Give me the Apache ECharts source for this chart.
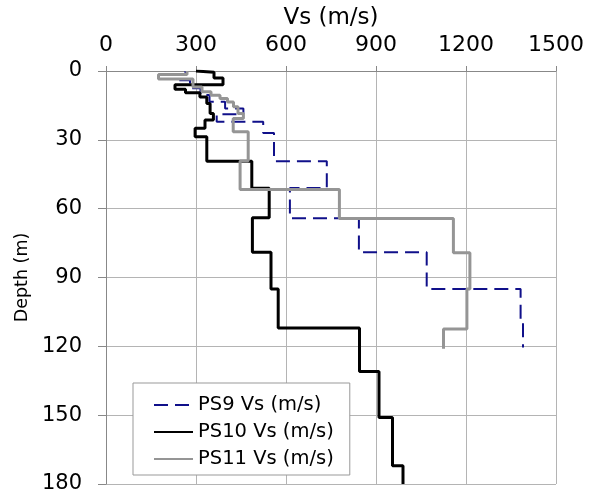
<!DOCTYPE html>
<html>
<head>
<meta charset="utf-8">
<script src="https://cdn.jsdelivr.net/npm/echarts@6/dist/echarts.min.js"></script>
<style>
  html, body { margin: 0; padding: 0; background: #fff; }
  #chart { width: 589px; height: 496px; }
</style>
</head>
<body>
<div id="chart"></div>
<script>
// layer bottoms (m) and shear wave velocity (m/s) per layer
const ps9Bottom = [1.5, 4, 7.5, 10.5, 13.4, 16.3, 18.8, 22.1, 27, 39.3, 51, 64.2, 79, 95, 108, 120.5];
const ps9Vs = [265, 235, 280, 315, 345, 397, 458, 369, 524, 560, 736, 613, 843, 1069, 1382, 1390];

const ps10Bottom = [0.5, 3, 6, 8, 9.5, 11.3, 14.2, 18.5, 21.4, 25, 28.7, 39.3, 51.1, 64, 79, 95, 112, 131, 151, 172, 180];
const ps10Vs = [300, 360, 390, 230, 265, 313, 336, 347, 358, 330, 297, 336, 486, 544, 488, 550, 574, 845, 910, 955, 990];

const ps11Bottom = [1.5, 3.5, 7, 9, 10.6, 12, 13.5, 15.6, 18.5, 20.7, 26.5, 39.2, 51.6, 64.3, 79.2, 95, 112.4, 121];
const ps11Vs = [270, 175, 290, 320, 350, 380, 405, 425, 440, 458, 424, 474, 447, 778, 1158, 1213, 1203, 1125];

const xTicks = [0, 300, 600, 900, 1200, 1500];
const yTicks = [0, 30, 60, 90, 120, 150, 180];

const seriesNames = ['PS9 Vs (m/s)', 'PS10 Vs (m/s)', 'PS11 Vs (m/s)'];

// turn layers into a step polyline: [Vs, depth]
function steps(bottoms, vs) {
  const pts = [];
  let top = 0;
  for (let i = 0; i < vs.length; i++) {
    pts.push([vs[i], top]);
    pts.push([vs[i], bottoms[i]]);
    top = bottoms[i];
  }
  return pts;
}

const font = '"DejaVu Sans", Verdana, sans-serif';
const chart = echarts.init(document.getElementById('chart'));

chart.setOption({
  animation: false,
  backgroundColor: '#fff',
  textStyle: { fontFamily: font },
  grid: { left: 106, right: 33, top: 71, bottom: 12, outerBoundsMode: 'none' },
  legend: {
    orient: 'vertical',
    left: 133,
    top: 383,
    padding: [12, 16, 6, 20],
    itemGap: 7,
    itemWidth: 39,
    itemHeight: 14,
    backgroundColor: '#fff',
    borderColor: '#999',
    borderWidth: 1,
    borderRadius: 0,
    itemStyle: { opacity: 0 },
    textStyle: { fontFamily: font, fontSize: 19.5, color: '#000' },
    data: seriesNames
  },
  xAxis: {
    type: 'value',
    position: 'top',
    min: xTicks[0],
    max: xTicks[xTicks.length - 1],
    interval: 300,
    name: 'Vs (m/s)',
    nameLocation: 'middle',
    nameGap: 41,
    nameTextStyle: { fontSize: 23, color: '#000', fontFamily: font },
    axisLine: { show: true, lineStyle: { color: '#888' } },
    axisTick: { show: true, length: 5, lineStyle: { color: '#888' } },
    axisLabel: { fontSize: 22, color: '#000', fontFamily: font, margin: 15, formatter: v => String(v) },
    splitLine: { show: true, lineStyle: { color: '#b4b4b4', width: 1 } }
  },
  yAxis: {
    type: 'value',
    inverse: true,
    min: yTicks[0],
    max: yTicks[yTicks.length - 1],
    interval: 30,
    name: 'Depth (m)',
    nameLocation: 'middle',
    nameRotate: 90,
    nameGap: 75,
    nameTextStyle: { fontSize: 17.5, color: '#000', fontFamily: font },
    axisLine: { show: true, lineStyle: { color: '#888' } },
    axisTick: { show: true, length: 8, lineStyle: { color: '#888' } },
    axisLabel: { fontSize: 21, color: '#000', fontFamily: font, margin: 24 },
    splitLine: { show: true, lineStyle: { color: '#b4b4b4', width: 1 } }
  },
  series: [
    {
      name: seriesNames[0],
      type: 'line',
      showSymbol: false,
      symbol: 'none',
      lineStyle: { color: '#10108a', width: 2, type: [14, 7] },
      itemStyle: { color: '#10108a' },
      data: steps(ps9Bottom, ps9Vs)
    },
    {
      name: seriesNames[1],
      type: 'line',
      showSymbol: false,
      symbol: 'none',
      lineStyle: { color: '#000', width: 3 },
      itemStyle: { color: '#000' },
      data: steps(ps10Bottom, ps10Vs)
    },
    {
      name: seriesNames[2],
      type: 'line',
      showSymbol: false,
      symbol: 'none',
      lineStyle: { color: '#959595', width: 3 },
      itemStyle: { color: '#959595' },
      data: steps(ps11Bottom, ps11Vs)
    }
  ]
});
</script>
</body>
</html>
